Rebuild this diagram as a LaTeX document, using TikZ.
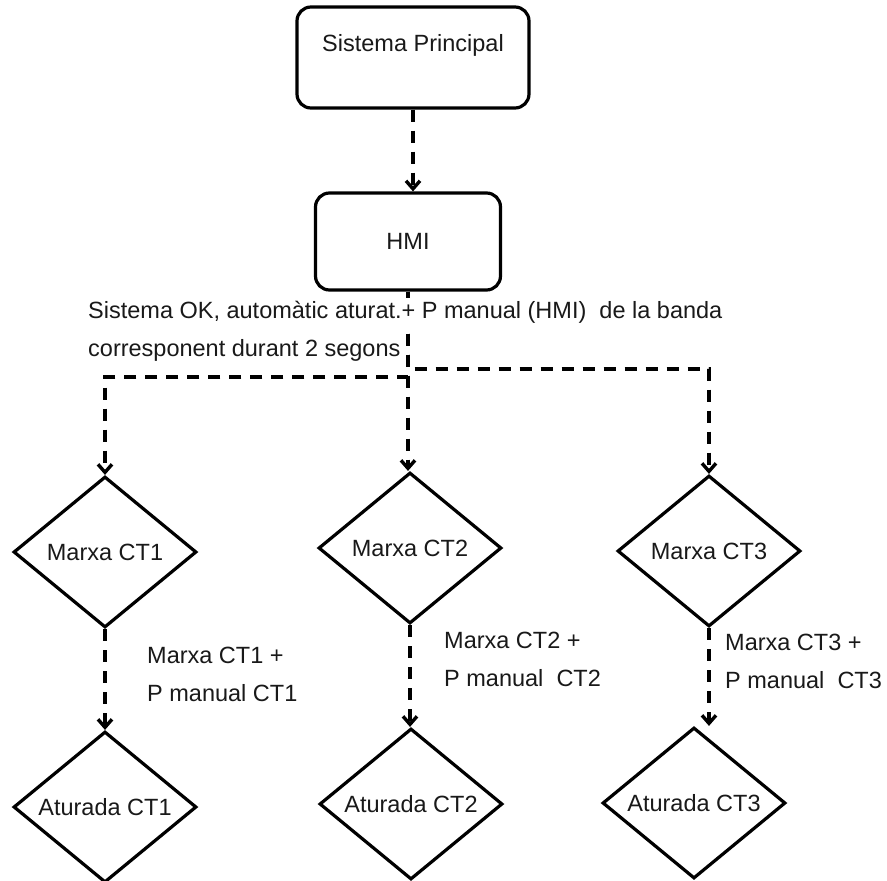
\documentclass[tikz,border=0pt]{standalone}
\usepackage{fontspec}
\setmainfont{Liberation Sans}
\usetikzlibrary{shapes.geometric,arrows.meta}
\begin{document}
\begin{tikzpicture}[x=1pt,y=-1pt,
  every node/.style={font=\fontsize{23.5}{38}\selectfont, text=black!90},
  box/.style={draw, line width=3.2pt, rounded corners=14pt, inner sep=0pt},
  dia/.style={draw, diamond, line width=3.2pt, aspect=1.21, minimum width=183pt, minimum height=151pt, inner sep=0pt},
  conn/.style={line width=3.4pt, dash pattern=on 12pt off 9pt, -{Straight Barb[length=8pt,width=14pt]}},
  lbl/.style={anchor=base west, inner sep=0pt, align=left}]
\useasboundingbox (0,0) rectangle (887,881);
\clip (0,0) rectangle (887,881);
\fill[white] (0,0) rectangle (887,881);

% boxes
\node[box, minimum width=232pt, minimum height=101pt] (sp) at (413,57.5) {};
\node[inner sep=0pt] (sptxt) at (413,45) {Sistema Principal};
\node[box, minimum width=185pt, minimum height=97pt] (hmi) at (408,241.5) {HMI};

% diamonds
\node[dia] (d1) at (105,552) {Marxa CT1};
\node[dia] (d2) at (410,548) {Marxa CT2};
\node[dia] (d3) at (709,551) {Marxa CT3};
\node[dia] (e1) at (105,807) {Aturada CT1};
\node[dia] (e2) at (411,804) {Aturada CT2};
\node[dia] (e3) at (694,803) {Aturada CT3};

% connectors
\draw[conn] (sp.south) -- (sp.south |- hmi.north);
\draw[conn] (hmi.south) -- (hmi.south |- 0,377) -| (d1.north);
\draw[conn] (hmi.south) -- (hmi.south |- 0,369) -| (d3.north);
\draw[conn] (hmi.south) -- (hmi.south |- d2.north);
\draw[conn] (d1.south) -- (e1.north);
\draw[conn] (d2.south) -- (d2.south |- e2.north);
\draw[conn] (d3.south) -- (d3.south |- e3.north);

% labels (anchor = baseline of the last line)
\node[lbl] (lab) at (88,356) {\kern-3pt\colorbox{white}{Sistema OK, automàtic aturat.+ P manual (HMI)\ \ de la banda}\kern-3pt\\corresponent durant 2 segons};
\node[lbl] (l1) at (147,701) {Marxa CT1 +\\P manual CT1};
\node[lbl] (l2) at (444,686) {Marxa CT2 +\\P manual\ \ CT2};
\node[lbl] (l3) at (725,688) {Marxa CT3 +\\P manual\ \ CT3};
\end{tikzpicture}
\end{document}
